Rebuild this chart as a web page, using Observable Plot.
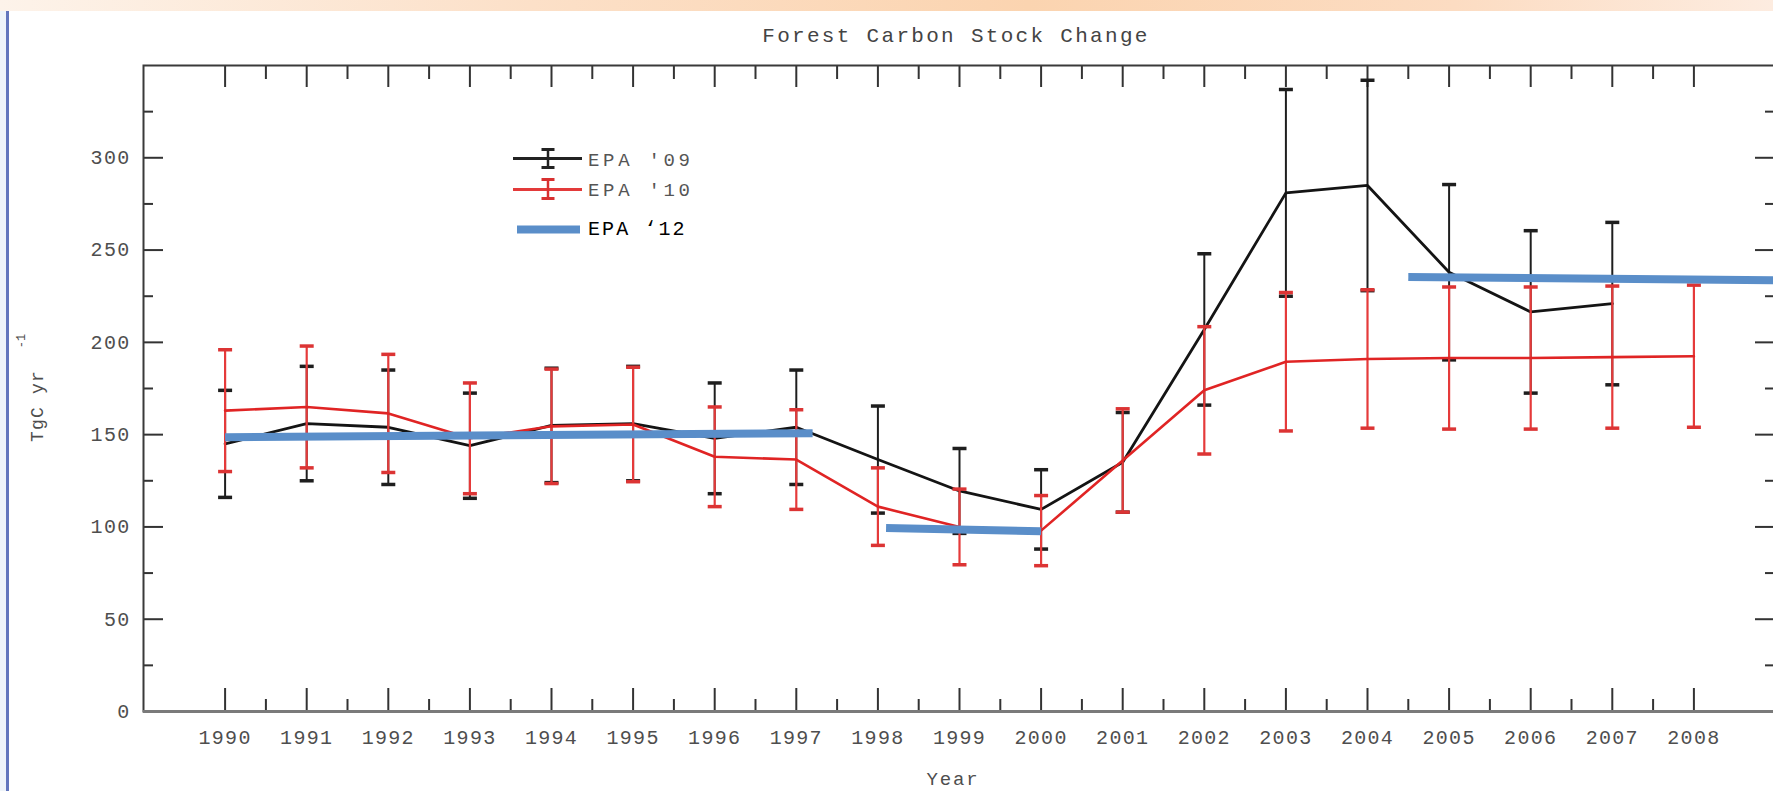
<!DOCTYPE html>
<html>
<head>
<meta charset="utf-8">
<script src="https://cdn.jsdelivr.net/npm/d3@7"></script>
<script src="https://cdn.jsdelivr.net/npm/@observablehq/plot@0.6"></script>
<style>
  html, body { margin: 0; padding: 0; background: #fff; overflow: hidden; }
  body { width: 1773px; height: 791px; position: relative; font-family: "Liberation Mono", "DejaVu Sans Mono", monospace; }
  #band { position: absolute; left: 0; top: 0; width: 1773px; height: 11px;
    background: linear-gradient(to right, #fdf3ea 0%, #fce0c8 30%, #fbd4b0 58%, #fcdcc2 82%, #fdece0 100%); }
  #edge { position: absolute; left: 0; top: 11px; width: 6px; height: 780px; background: #eef4fa; }
  #bar { position: absolute; left: 6px; top: 11px; width: 3px; height: 780px; background: #6276bd; }
  #chart { position: absolute; left: 0; top: 0; }
  #overlay { position: absolute; left: 0; top: 0; pointer-events: none; }
</style>
</head>
<body>
<div id="band"></div>
<div id="edge"></div>
<div id="bar"></div>
<div id="chart"></div>
<svg id="overlay" width="1773" height="791" font-family="Liberation Mono, DejaVu Sans Mono, monospace">
  <text x="956" y="42" text-anchor="middle" font-size="21" letter-spacing="2.3" fill="#444">Forest Carbon Stock Change</text>
  <text x="953" y="785" text-anchor="middle" font-size="19" letter-spacing="1.8" fill="#4e4e4e">Year</text>
  <text transform="translate(43,406) rotate(-90)" text-anchor="middle" font-size="18" letter-spacing="1.2" fill="#4e4e4e">TgC yr</text>
  <text transform="translate(25,341) rotate(-90)" text-anchor="middle" font-size="12" fill="#4e4e4e">-1</text>
  <!-- legend -->
  <g stroke-linecap="butt">
    <line x1="513" x2="582" y1="158.5" y2="158.5" stroke="#222" stroke-width="3"/>
    <line x1="548" x2="548" y1="149.5" y2="167.5" stroke="#222" stroke-width="2.5"/>
    <line x1="541.5" x2="554.5" y1="149.5" y2="149.5" stroke="#222" stroke-width="3"/>
    <line x1="541.5" x2="554.5" y1="167.5" y2="167.5" stroke="#222" stroke-width="3"/>
    <line x1="513" x2="582" y1="189.5" y2="189.5" stroke="#e33a3a" stroke-width="3"/>
    <line x1="548" x2="548" y1="179.5" y2="198.5" stroke="#d83030" stroke-width="2.5"/>
    <line x1="541.5" x2="554.5" y1="179.5" y2="179.5" stroke="#d83030" stroke-width="3"/>
    <line x1="541.5" x2="554.5" y1="198.5" y2="198.5" stroke="#d83030" stroke-width="3"/>
    <line x1="517" x2="580" y1="229.5" y2="229.5" stroke="#5a8ec9" stroke-width="8"/>
  </g>
  <text x="588" y="166" font-size="19" letter-spacing="3.7" fill="#555">EPA '09</text>
  <text x="588" y="196" font-size="19" letter-spacing="3.7" fill="#555">EPA '10</text>
  <text x="588" y="235" font-size="20" letter-spacing="2.1" fill="#000">EPA ‘12</text>
</svg>
<script>
// Forest carbon stock change estimates, TgC per year
const years09 = [1990, 1991, 1992, 1993, 1994, 1995, 1996, 1997, 1998, 1999, 2000, 2001, 2002, 2003, 2004, 2005, 2006, 2007];
const epa09   = [145, 156, 154, 144, 155, 156, 148, 154, 136.5, 119.5, 109.5, 135, 207, 281, 285, 238, 216.5, 221];
const err09   = [29, 31, 31, 28.5, 31, 31, 30, 31, 29, 23, 21.5, 27, 41, 56, 57, 47.5, 44, 44];

const years10 = [1990, 1991, 1992, 1993, 1994, 1995, 1996, 1997, 1998, 1999, 2000, 2001, 2002, 2003, 2004, 2005, 2006, 2007, 2008];
const epa10   = [163, 165, 161.5, 148, 154.5, 155.5, 138, 136.5, 111, 100, 98, 136, 174, 189.5, 191, 191.5, 191.5, 192, 192.5];
const err10   = [33, 33, 32, 30, 31, 31, 27, 27, 21, 20.5, 19, 28, 34.5, 37.5, 37.5, 38.5, 38.5, 38.5, 38.5];

// EPA '12 period averages (start/end year and value of each segment)
const epa12From      = [1990, 1998.1, 2004.5];
const epa12To        = [1997.2, 2000, 2009];
const epa12FromValue = [148.6, 99.4, 235.4];
const epa12ToValue   = [150.8, 97.7, 233.6];

// axis ticks
const yearTicks  = [1990, 1991, 1992, 1993, 1994, 1995, 1996, 1997, 1998, 1999, 2000, 2001, 2002, 2003, 2004, 2005, 2006, 2007, 2008];
const valueTicks = [0, 50, 100, 150, 200, 250, 300];
const halfYearTicks = yearTicks.slice(0, -1).map(y => y + 0.5);
const minorValueTicks = valueTicks.map(v => v + 25);

const series09 = years09.map((year, i) => ({year, value: epa09[i], lo: epa09[i] - err09[i], hi: epa09[i] + err09[i]}));
const series10 = years10.map((year, i) => ({year, value: epa10[i], lo: epa10[i] - err10[i], hi: epa10[i] + err10[i]}));
const caps09 = series09.flatMap(d => [{year: d.year, v: d.lo}, {year: d.year, v: d.hi}]);
const caps10 = series10.flatMap(d => [{year: d.year, v: d.lo}, {year: d.year, v: d.hi}]);
const segments12 = epa12From.map((x1, i) => ({x1, x2: epa12To[i], y1: epa12FromValue[i], y2: epa12ToValue[i]}));

// horizontal error-bar cap
const cap = {
  draw(ctx, size) {
    const w = Math.sqrt(size / Math.PI);
    ctx.moveTo(-w, 0);
    ctx.lineTo(w, 0);
  }
};

const width = 1776, height = 791;
const marginTop = 65, marginBottom = 80, marginLeft = 143, marginRight = 1;
const plotW = width - marginLeft - marginRight;
const plotH = height - marginTop - marginBottom;
const tickColor = "#333";

const chart = Plot.plot({
  width, height, marginTop, marginBottom, marginLeft, marginRight,
  x: {type: "linear", domain: [1989, 2009]},
  y: {type: "linear", domain: [0, 350]},
  style: {
    fontFamily: "Liberation Mono, DejaVu Sans Mono, monospace",
    fontSize: "20px",
    letterSpacing: "1.3px",
    color: "#4e4e4e",
    background: "transparent",
    maxWidth: "none",
    overflow: "visible"
  },
  marks: [
    Plot.axisX(yearTicks, {anchor: "bottom", tickSize: 0, tickPadding: 18, tickFormat: d => String(d), label: null}),
    Plot.axisY(valueTicks, {anchor: "left", tickSize: 0, tickPadding: 13, tickFormat: d => String(d), label: null}),
    // inward ticks on all four sides
    Plot.tickX(yearTicks, {x: d => d, insetTop: plotH - 23, stroke: tickColor, strokeWidth: 2}),
    Plot.tickX(halfYearTicks, {x: d => d, insetTop: plotH - 12, stroke: tickColor, strokeWidth: 2}),
    Plot.tickX(yearTicks, {x: d => d, insetBottom: plotH - 22, stroke: tickColor, strokeWidth: 2}),
    Plot.tickX(halfYearTicks, {x: d => d, insetBottom: plotH - 14, stroke: tickColor, strokeWidth: 2}),
    Plot.tickY(valueTicks, {y: d => d, insetRight: plotW - 20, stroke: tickColor, strokeWidth: 2}),
    Plot.tickY(minorValueTicks, {y: d => d, insetRight: plotW - 10, stroke: tickColor, strokeWidth: 2}),
    Plot.tickY(valueTicks, {y: d => d, insetLeft: plotW - 20, stroke: tickColor, strokeWidth: 2}),
    Plot.tickY(minorValueTicks, {y: d => d, insetLeft: plotW - 10, stroke: tickColor, strokeWidth: 2}),
    Plot.frame({stroke: "#3a3a3a", strokeWidth: 2}),
    Plot.ruleY([0], {stroke: "#7a7a7a", strokeWidth: 3}),

    // EPA '09
    Plot.ruleX(series09, {x: "year", y1: "lo", y2: "hi", stroke: "#1e1e1e", strokeWidth: 2}),
    Plot.line(series09, {x: "year", y: "value", stroke: "#141414", strokeWidth: 2.8}),
    Plot.dot(caps09, {x: "year", y: "v", symbol: cap, r: 7, fill: "none", stroke: "#1e1e1e", strokeWidth: 3.5}),

    // EPA '10
    Plot.ruleX(series10, {x: "year", y1: "lo", y2: "hi", stroke: "#e53a3a", strokeWidth: 2.2}),
    Plot.line(series10, {x: "year", y: "value", stroke: "#e02424", strokeWidth: 2.6}),
    Plot.dot(caps10, {x: "year", y: "v", symbol: cap, r: 7, fill: "none", stroke: "#dc3434", strokeWidth: 3.5}),

    // EPA '12
    Plot.link(segments12, {x1: "x1", y1: "y1", x2: "x2", y2: "y2", stroke: "#5a8ec9", strokeWidth: 8, strokeLinecap: "butt"})
  ]
});

document.getElementById("chart").appendChild(chart);
</script>
</body>
</html>
